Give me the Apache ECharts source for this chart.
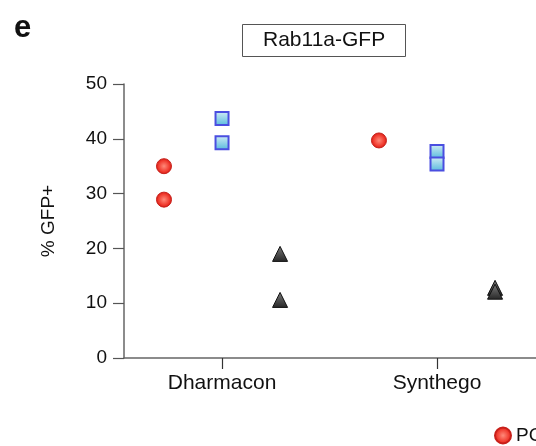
<!DOCTYPE html>
<html><head><meta charset="utf-8">
<script src="https://cdn.jsdelivr.net/npm/echarts@6/dist/echarts.min.js"></script>
<style>html,body{margin:0;padding:0;background:#fff}#c{width:536px;height:446px}</style>
</head><body><div id="c"></div>
<script>
const categories = ['Dharmacon', 'Synthego'];
const seriesNames = ['PCR product', 'Plasmid', 'ssDNA'];
const circleValues = [[35.0, 28.9], [39.7]];
const squareValues = [[43.7, 39.3], [37.7, 35.4]];
const triangleValues = [[19.0, 10.6], [12.8, 12.1]];
const yTicks = [0, 10, 20, 30, 40, 50];

const groupOffset = [-0.27, 0, 0.27];
function toPoints(vals, g) {
  const pts = [];
  vals.forEach((arr, ci) => arr.forEach(v => pts.push([ci + 1 + groupOffset[g], v])));
  return pts;
}
const font = 'Liberation Sans, Arial, sans-serif';
const chart = echarts.init(document.getElementById('c'), null, {renderer: 'canvas'});
chart.setOption({
  animation: false,
  backgroundColor: '#fff',
  title: [
    {text: 'e', left: 9, top: 8, textStyle: {fontFamily: font, fontSize: 31, fontWeight: 'bold', color: '#111'}},
    {text: 'Rab11a-GFP', left: 242, top: 24, padding: [6, 21], borderColor: '#555', borderWidth: 1,
     textStyle: {fontFamily: font, fontSize: 21, fontWeight: 'normal', color: '#111'}}
  ],
  legend: {
    left: 494, top: 426, itemWidth: 16, itemHeight: 16, itemGap: 20, padding: 0,
    data: [{name: seriesNames[0], icon: 'circle'}, {name: seriesNames[1], icon: 'rect'}, {name: seriesNames[2], icon: 'triangle'}],
    textStyle: {fontFamily: font, fontSize: 19, color: '#111'}
  },
  grid: {left: 124, top: 84, bottom: 88, width: 442, containLabel: false, outerBoundsMode: 'none'},
  xAxis: {
    type: 'value', min: 0.544, max: 2.6,
    splitLine: {show: false},
    axisLine: {lineStyle: {color: '#666', width: 1.5}},
    axisTick: {customValues: [1, 2], length: 11, lineStyle: {color: '#333', width: 1.2}},
    axisLabel: {customValues: [1, 2], formatter: v => categories[Math.round(v) - 1] || '', margin: 15,
      fontFamily: font, fontSize: 21, color: '#111'}
  },
  yAxis: {
    type: 'value', min: 0, max: 50, interval: 10,
    name: '% GFP+', nameLocation: 'middle', nameGap: 66, nameRotate: 90,
    nameTextStyle: {fontFamily: font, fontSize: 19, color: '#111'},
    splitLine: {show: false},
    axisLine: {show: true, lineStyle: {color: '#666', width: 1.5}},
    axisTick: {show: true, length: 11, lineStyle: {color: '#555', width: 1.2}},
    axisLabel: {formatter: v => yTicks.includes(v) ? String(v) : '', margin: 17, fontFamily: font, fontSize: 19, color: '#111'}
  },
  series: [
    {name: seriesNames[0], type: 'scatter', symbol: 'circle', symbolSize: 15, data: toPoints(circleValues, 0),
     itemStyle: {color: {type: 'radial', x: 0.5, y: 0.5, r: 0.5, colorStops: [{offset: 0, color: '#ff8a7a'}, {offset: 0.7, color: '#f03a2e'}, {offset: 1, color: '#d01a14'}]},
       borderColor: '#c8201a', borderWidth: 1, opacity: 1}},
    {name: seriesNames[1], type: 'scatter', symbol: 'rect', symbolSize: 13, data: toPoints(squareValues, 1),
     itemStyle: {color: {type: 'linear', x: 0, y: 0, x2: 0, y2: 1, colorStops: [{offset: 0, color: '#d4eef6'}, {offset: 1, color: '#56b9dc'}]},
       borderColor: '#4a4ee0', borderWidth: 2, opacity: 1}},
    {name: seriesNames[2], type: 'scatter', symbol: 'triangle', symbolSize: 15, data: toPoints(triangleValues, 2),
     itemStyle: {color: {type: 'linear', x: 0, y: 0, x2: 0, y2: 1, colorStops: [{offset: 0, color: '#7a7a7a'}, {offset: 1, color: '#262626'}]},
       borderColor: '#111', borderWidth: 1, opacity: 1}}
  ]
});
</script></body></html>
